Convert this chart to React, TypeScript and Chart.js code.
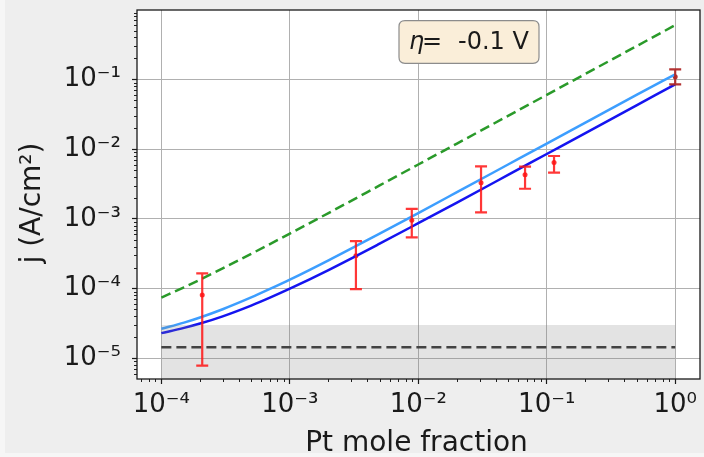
import React, { useEffect, useRef } from "react";
import { Chart, registerables } from "chart.js";

Chart.register(...registerables);

// ---------- data ----------
const lineX = [1e-4, 1.5e-4, 2e-4, 3e-4, 5e-4, 7e-4, 1e-3, 2e-3, 5e-3, 1e-2, 2e-2, 5e-2, 1e-1, 2e-1, 5e-1, 1];
const lightBlueY = [2.64e-5, 3.24e-5, 3.84e-5, 5.04e-5, 7.44e-5, 9.84e-5, 1.34e-4, 2.54e-4, 6.14e-4, 1.21e-3, 2.41e-3, 6.01e-3, 1.2e-2, 2.4e-2, 6.0e-2, 0.118];
const darkBlueY = [2.29e-5, 2.72e-5, 3.14e-5, 3.99e-5, 5.69e-5, 7.39e-5, 9.94e-5, 1.84e-4, 4.39e-4, 8.64e-4, 1.71e-3, 4.26e-3, 8.51e-3, 1.7e-2, 4.25e-2, 0.085];
const greenY = [7.4e-5, 1.04e-4, 1.34e-4, 1.94e-4, 3.14e-4, 4.34e-4, 6.14e-4, 1.21e-3, 3.01e-3, 6.01e-3, 1.2e-2, 3.0e-2, 6.0e-2, 0.12, 0.3, 0.6];

const bandX = [1e-4, 1];
const bandTop = [3e-5, 3e-5];
const floorY = [1.44e-5, 1.44e-5];

const errX = [2.08e-4, 3.27e-3, 8.9e-3, 0.0308, 0.0678, 0.114, 1.0];
const errY = [8.1e-5, 2.96e-4, 9.5e-4, 3.3e-3, 4.3e-3, 6.4e-3, 0.109];
const errLow = [7.8e-6, 9.8e-5, 5.4e-4, 1.24e-3, 2.7e-3, 4.6e-3, 0.085];
const errHigh = [1.65e-4, 4.77e-4, 1.39e-3, 5.66e-3, 5.6e-3, 7.96e-3, 0.139];

const xTickExps = [-4, -3, -2, -1, 0];
const yTickExps = [-5, -4, -3, -2, -1];
const xRange = [6.46e-5, 1.56];
const yRange = [5.03e-6, 0.99];

const xLabel = "Pt mole fraction";
const yLabel = "j (A/cm\u00B2)";
const noteSymbol = "\u03B7";
const noteValue = "-0.1 V";

// ---------- styles ----------
const FONT = '"DejaVu Sans", sans-serif';
const RED = "rgba(255,20,20,0.85)";
const DARK_RED = "rgba(175,40,40,0.95)";
const errColors = errX.map((_, i) => (i === errX.length - 1 ? DARK_RED : RED));

const SUP: Record<string, string> = {
  "-": "\u207B", "0": "\u2070", "1": "\u00B9", "2": "\u00B2", "3": "\u00B3",
  "4": "\u2074", "5": "\u2075", "6": "\u2076", "7": "\u2077", "8": "\u2078", "9": "\u2079",
};
function fmtPow(v: number): string {
  const e = Math.round(Math.log10(v));
  return "10" + String(e).split("").map((c) => SUP[c]).join("");
}

const pts = (xs: number[], ys: number[]) => xs.map((x, i) => ({ x, y: ys[i] }));

const customPlugin = {
  id: "customDecor",
  beforeDraw(chart: any) {
    const { ctx, chartArea: a } = chart;
    ctx.save();
    ctx.fillStyle = "#ffffff";
    ctx.fillRect(a.left, a.top, a.right - a.left, a.bottom - a.top);
    ctx.restore();
  },
  afterDatasetsDraw(chart: any) {
    const { ctx } = chart;
    const xs = chart.scales.x;
    const ys = chart.scales.y;
    ctx.save();
    ctx.lineWidth = 2.2;
    for (let i = 0; i < errX.length; i++) {
      const px = xs.getPixelForValue(errX[i]);
      const pLo = ys.getPixelForValue(errLow[i]);
      const pHi = ys.getPixelForValue(errHigh[i]);
      ctx.strokeStyle = errColors[i];
      ctx.beginPath();
      ctx.moveTo(px, pLo);
      ctx.lineTo(px, pHi);
      ctx.moveTo(px - 6, pLo);
      ctx.lineTo(px + 6, pLo);
      ctx.moveTo(px - 6, pHi);
      ctx.lineTo(px + 6, pHi);
      ctx.stroke();
    }
    ctx.restore();
  },
  afterDraw(chart: any) {
    const { ctx, chartArea: a } = chart;
    const xs = chart.scales.x;
    const ys = chart.scales.y;
    ctx.save();
    // minor ticks
    ctx.strokeStyle = "#222";
    ctx.lineWidth = 1;
    ctx.beginPath();
    for (let e = -6; e <= 1; e++) {
      for (let m = 2; m <= 9; m++) {
        const v = m * Math.pow(10, e);
        if (v > xRange[0] && v < xRange[1]) {
          const px = Math.round(xs.getPixelForValue(v)) + 0.5;
          ctx.moveTo(px, a.bottom);
          ctx.lineTo(px, a.bottom + 3);
        }
        if (v > yRange[0] && v < yRange[1]) {
          const py = Math.round(ys.getPixelForValue(v)) + 0.5;
          ctx.moveTo(a.left, py);
          ctx.lineTo(a.left - 3, py);
        }
      }
    }
    ctx.stroke();
    // frame
    ctx.strokeStyle = "#1a1a1a";
    ctx.lineWidth = 1.3;
    ctx.strokeRect(a.left, a.top, a.right - a.left, a.bottom - a.top);

    // axis labels
    ctx.fillStyle = "#1a1a1a";
    ctx.font = `28px ${FONT}`;
    ctx.textAlign = "center";
    ctx.textBaseline = "alphabetic";
    ctx.fillText(xLabel, (a.left + a.right) / 2 - 2, 451);
    ctx.save();
    ctx.translate(35, 203);
    ctx.rotate(-Math.PI / 2);
    ctx.fillText(yLabel, 0, 0);
    ctx.restore();

    // annotation box
    const bx = a.left + 262;
    const by = a.top + 10.7;
    const bw = 140;
    const bh = 42.6;
    const r = 6;
    ctx.beginPath();
    ctx.moveTo(bx + r, by);
    ctx.lineTo(bx + bw - r, by);
    ctx.quadraticCurveTo(bx + bw, by, bx + bw, by + r);
    ctx.lineTo(bx + bw, by + bh - r);
    ctx.quadraticCurveTo(bx + bw, by + bh, bx + bw - r, by + bh);
    ctx.lineTo(bx + r, by + bh);
    ctx.quadraticCurveTo(bx, by + bh, bx, by + bh - r);
    ctx.lineTo(bx, by + r);
    ctx.quadraticCurveTo(bx, by, bx + r, by);
    ctx.closePath();
    ctx.fillStyle = "#faeed9";
    ctx.fill();
    ctx.strokeStyle = "#8c8c8c";
    ctx.lineWidth = 1.2;
    ctx.stroke();

    ctx.fillStyle = "#1a1a1a";
    ctx.textAlign = "left";
    ctx.font = `italic 24px ${FONT}`;
    ctx.fillText(noteSymbol, bx + 10, by + 28.5);
    ctx.font = `24px ${FONT}`;
    ctx.fillText("=", bx + 23, by + 28.5);
    ctx.fillText(noteValue, bx + 59, by + 28.5);
    ctx.restore();
  },
};

export default function App() {
  const ref = useRef<HTMLCanvasElement | null>(null);

  useEffect(() => {
    document.body.style.margin = "0";
    document.body.style.background = "#f6f6f6";
    const canvas = ref.current;
    if (!canvas) return;

    const lineDs = (label: string, ys: number[], color: string, dash: number[] = [], width = 2.5) => ({
      label,
      data: pts(lineX, ys),
      showLine: true,
      borderColor: color,
      backgroundColor: color,
      borderWidth: width,
      borderDash: dash,
      pointRadius: 0,
      cubicInterpolationMode: "monotone",
      fill: false,
    });

    const chart = new Chart(canvas, {
      type: "scatter",
      data: {
        datasets: [
          {
            label: "band",
            data: pts(bandX, bandTop),
            showLine: true,
            borderWidth: 0,
            borderColor: "rgba(0,0,0,0)",
            backgroundColor: "rgba(128,128,128,0.22)",
            pointRadius: 0,
            fill: "start",
          } as any,
          {
            label: "floor",
            data: pts(bandX, floorY),
            showLine: true,
            borderColor: "#333333",
            borderWidth: 2.5,
            borderDash: [10, 5],
            pointRadius: 0,
            fill: false,
          },
          lineDs("green", greenY, "#2a9a2a", [10, 5]) as any,
          lineDs("lightblue", lightBlueY, "#3d9eff") as any,
          lineDs("blue", darkBlueY, "#1414f0") as any,
          {
            label: "data",
            data: pts(errX, errY),
            showLine: false,
            pointRadius: 2.5,
            pointBorderWidth: 0,
            backgroundColor: errColors,
            borderColor: errColors,
          } as any,
        ],
      },
      options: {
        animation: false,
        responsive: false,
        devicePixelRatio: 1,
        events: [],
        layout: { padding: { top: 10, right: 1, left: 0, bottom: 0 } },
        plugins: { legend: { display: false }, tooltip: { enabled: false } },
        scales: {
          x: {
            type: "logarithmic",
            min: xRange[0],
            max: xRange[1],
            afterBuildTicks: (s: any) => {
              s.ticks = xTickExps.map((e) => ({ value: Math.pow(10, e) }));
            },
            afterFit: (s: any) => {
              s.height = 74;
              s.paddingLeft = 0;
              s.paddingRight = 0;
            },
            ticks: {
              callback: (v: any) => fmtPow(Number(v)),
              font: { family: FONT, size: 26 },
              color: "#1a1a1a",
              padding: 6,
              maxRotation: 0,
              autoSkip: false,
            },
            grid: { color: "#b0b0b0", lineWidth: 1, tickColor: "#1a1a1a", tickLength: 5, tickWidth: 1.2 },
            border: { display: false },
          } as any,
          y: {
            type: "logarithmic",
            min: yRange[0],
            max: yRange[1],
            afterBuildTicks: (s: any) => {
              s.ticks = yTickExps.map((e) => ({ value: Math.pow(10, e) }));
            },
            afterFit: (s: any) => {
              s.width = 132;
              s.paddingTop = 0;
              s.paddingBottom = 0;
            },
            ticks: {
              callback: (v: any) => fmtPow(Number(v)),
              font: { family: FONT, size: 26 },
              color: "#1a1a1a",
              padding: 11,
              autoSkip: false,
            },
            grid: { color: "#b0b0b0", lineWidth: 1, tickColor: "#1a1a1a", tickLength: 5, tickWidth: 1.2 },
            border: { display: false },
          } as any,
        },
      },
      plugins: [customPlugin],
    });

    return () => chart.destroy();
  }, []);

  return (
    <div style={{ paddingLeft: 5, width: 699, height: 457, background: "#f6f6f6" }}>
      <canvas
        ref={ref}
        width={699}
        height={453}
        style={{ display: "block", width: 699, height: 453, background: "#eeeeee" }}
      />
    </div>
  );
}
